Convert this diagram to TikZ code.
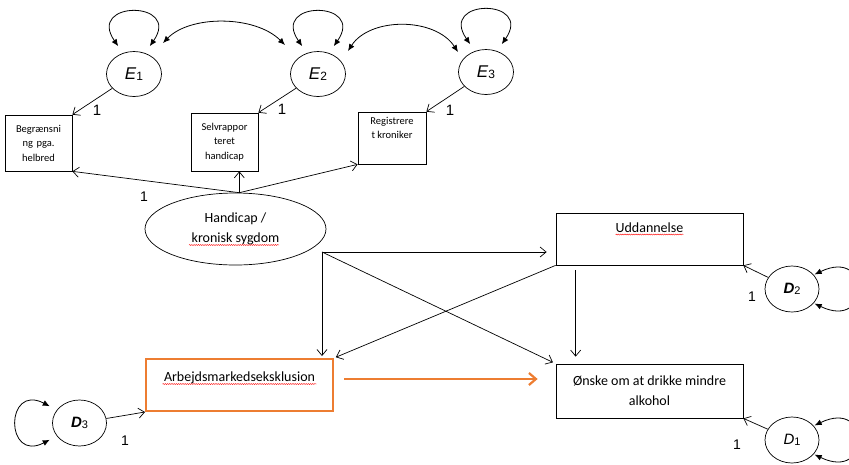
\documentclass[tikz,border=0pt]{standalone}
\usepackage{fontspec}
\setmainfont{Carlito}
\newfontfamily\arialfont{Liberation Sans}
\usetikzlibrary{shapes, arrows.meta, positioning, decorations.pathmorphing}
\definecolor{exclorange}{RGB}{237,125,49}

\begin{document}
\begin{tikzpicture}[x=1pt, y=-1pt,
    box/.style={draw, line width=0.7pt, inner sep=0pt, align=center},
    smallbox/.style={box, font=\fontsize{10.5}{14.5}\selectfont},
    bigbox/.style={box, minimum width=187pt, font=\fontsize{14}{20}\selectfont},
    err/.style={draw, ellipse, line width=0.7pt, inner sep=0pt, minimum width=55pt, minimum height=45pt, font=\arialfont\fontsize{17}{17}\selectfont},
    dist/.style={err, minimum width=54pt, minimum height=46pt, font=\arialfont\fontsize{15}{15}\selectfont},
    effect/.style={line width=0.7pt, -{Straight Barb[length=6pt,width=10pt]}},
    varloop/.style={line width=0.8pt, {Latex[length=7pt,width=6pt]}-{Latex[length=7pt,width=6pt]}},
    covar/.style={varloop},
    one/.style={font=\arialfont\fontsize{15}{15}\selectfont},
    spell/.style={red, line width=0.4pt, decorate, decoration={snake, amplitude=0.5pt, segment length=2.2pt}}]

\useasboundingbox (0,0) rectangle (849,464);

% maaleled
\node[err] (E1) at (134,74) {{\itshape E}\raisebox{-1pt}{\fontsize{12}{12}\selectfont 1}};
\node[err] (E2) at (318,74) {{\itshape E}\raisebox{-1pt}{\fontsize{12}{12}\selectfont 2}};
\node[err] (E3) at (486,72) {{\itshape E}\raisebox{-1pt}{\fontsize{12}{12}\selectfont 3}};

\node[smallbox, minimum width=67pt, minimum height=56pt, text width=67pt] (beg) at (38.5,143) {Begrænsni\\ng pga.\\helbred};
\node[smallbox, minimum width=67pt, minimum height=58pt, text width=67pt] (selv) at (224.5,142) {Selvrappor\\teret\\handicap};
\node[smallbox] (reg) at (392,138) {\parbox[c][52pt][t]{68pt}{\centering\vspace*{5pt}Registrere\\t kroniker}};

\node[draw, ellipse, line width=0.7pt, inner sep=0pt, minimum width=181pt, minimum height=72pt, align=center, font=\fontsize{14}{20}\selectfont] (hc) at (235.5,229) {Handicap /\\kronisk sygdom};

% varians og kovarians
\foreach \e in {E1,E2,E3}
  \draw[varloop] ([yshift=9pt]\e.130) .. controls +(-32,-46) and +(32,-46) .. ([yshift=9pt]\e.50);
\draw[covar] ([shift={(29,-31)}]E1.center) .. controls +(27,-28) and +(-30,-30) .. ([shift={(-33,-29)}]E2.center);
\draw[covar] ([shift={(30,-23)}]E2.center) .. controls +(22,-34) and +(-23,-35) .. ([shift={(-28,-20)}]E3.center);

\draw[effect] (E1) -- (beg.north east);
\draw[effect] (E2) -- (selv.north east);
\draw[effect] (E3) -- (reg.north east);
\node[one] (w1) at (97,110) {1};
\node[one] (w2) at (282,109) {1};
\node[one] (w3) at (450,110) {1};

\coordinate (hctop) at (hc.84);
\draw[effect] (hctop) -- (beg.south east);
\draw[effect] (hctop) -- (hctop |- selv.south);
\draw[effect] (hctop) -- (reg.south west);
\node[one, font=\arialfont\fontsize{14}{14}\selectfont] (w4) at (144,197) {1};

% strukturmodel
\node[bigbox, text height=19pt, text depth=33pt] (udd) at (649.5,239) {Uddannelse};
\node[bigbox, draw=exclorange, line width=2pt, text height=22.5pt, text depth=29.5pt] (arb) at (239.5,385) {Arbejdsmarkedseksklusion};
\node[bigbox, minimum height=54pt] (onske) at (649.5,391) {Ønske om at drikke mindre\\alkohol};

\coordinate (fork) at (322,252);
\draw[effect, shorten >=9pt] (fork) -- (fork -| udd.west);
\draw[effect, shorten >=2pt] (fork) -- (fork |- arb.north);
\draw[effect, shorten >=3pt] (fork) -- (onske.north west);
\draw[effect, shorten >=2pt] (udd.south west) -- (arb.north east);
\draw[effect] ([xshift=20pt, yshift=-5pt]udd.south west) -- ([xshift=20pt, yshift=7pt]onske.north west);
\draw[line width=2.2pt, exclorange, shorten <=10pt, shorten >=18pt, -{Straight Barb[length=7pt,width=12pt]}] ([yshift=6pt]arb.east) -- ([yshift=6pt]arb.east -| onske.west);

% forstyrrelsesled
\node[dist] (D2) at (792,289) {{\bfseries\itshape D}\raisebox{-1pt}{\fontsize{11}{11}\selectfont 2}};
\node[dist] (D1) at (792,440) {{\itshape D}\raisebox{-1pt}{\fontsize{11}{11}\selectfont 1}};
\node[dist] (D3) at (79.5,423) {{\bfseries\itshape D}\raisebox{-1pt}{\fontsize{11}{11}\selectfont 3}};

\draw[effect] (D2) -- (udd.south east);
\draw[effect] (D1) -- (onske.south east);
\draw[effect] (D3) -- (arb.south west);
\node[one, font=\arialfont\fontsize{14}{14}\selectfont] (w5) at (752,297) {1};
\node[one, font=\arialfont\fontsize{14}{14}\selectfont] (w6) at (737,445) {1};
\node[one, font=\arialfont\fontsize{14}{14}\selectfont] (w7) at (125,441) {1};

\foreach \d in {D1,D2}
  \draw[varloop, shorten <=1pt, shorten >=1pt] (\d.33) .. controls +(58,-28) and +(58,28) .. (\d.-33);
\draw[varloop, shorten <=8pt, shorten >=8pt] (D3.150) .. controls +(-52,-27) and +(-52,27) .. (D3.-150);

% stavekontrol
\draw[spell] (189,245) -- (279,245);
\draw[spell] ([xshift=-34pt, yshift=-2.5pt]udd.base) -- ([xshift=34pt, yshift=-2.5pt]udd.base);
\draw[spell] ([xshift=-77pt, yshift=-2.5pt]arb.base) -- ([xshift=77pt, yshift=-2.5pt]arb.base);
\end{tikzpicture}
\end{document}
